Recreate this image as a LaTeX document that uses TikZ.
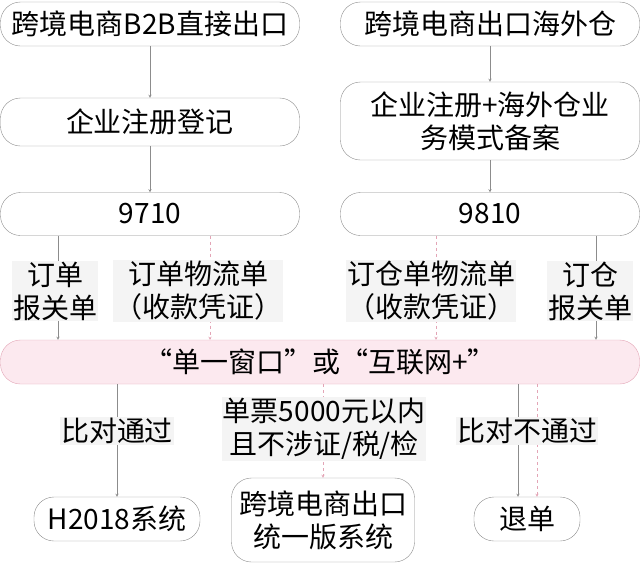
\documentclass[tikz,border=0pt]{standalone}
\usepackage{fontspec}
\setmainfont{Noto Sans CJK SC}
\usepackage{tikz}
\definecolor{boxline}{HTML}{8C8C8C}
\definecolor{pinkline}{HTML}{E3A5B6}
\definecolor{pinkfill}{HTML}{FCE9EF}
\definecolor{labelbg}{HTML}{F4F4F4}
\tikzset{
  stage/.style={draw=boxline, rounded corners=20pt, align=center, inner sep=0pt,
    font=\fontsize{28}{33}\selectfont},
  tag/.style={fill=labelbg, align=center, inner sep=1pt,
    font=\fontsize{28}{33}\selectfont},
  flow/.style={->, >=stealth, draw=boxline, thin},
  ebill/.style={->, >=stealth, draw=pinkline, thin, dashed}
}
\begin{document}
\begin{tikzpicture}[x=1pt, y=-1pt]
    % Keep the page the size of the reference
    \useasboundingbox (0,0) rectangle (641,563);

    % Top row: the two export modes
    \node[stage, minimum width=299pt, minimum height=44pt] (b2b) at (150,24) {跨境电商B2B直接出口};
    \node[stage, minimum width=299pt, minimum height=44pt] (ow) at (490,24) {跨境电商出口海外仓};

    % Registration
    \node[stage, minimum width=299pt, minimum height=48pt] (regL) at (150,122) {企业注册登记};
    \node[stage, minimum width=299pt, minimum height=78pt] (regR) at (490,121) {企业注册+海外仓业\\务模式备案};

    % Supervision codes
    \node[stage, minimum width=299pt, minimum height=43pt] (c9710) at (150,214) {9710};
    \node[stage, minimum width=299pt, minimum height=43pt] (c9810) at (490,214) {9810};

    % Single window
    \node[stage, draw=pinkline, fill=pinkfill, minimum width=639pt, minimum height=44pt] (win) at (320,362) {“单一窗口”或“互联网+”};

    % Systems
    \node[stage, minimum width=166pt, minimum height=44pt] (h2018) at (117,519) {H2018系统};
    \node[stage, minimum width=183pt, minimum height=84pt] (unify) at (323,520) {跨境电商出口\\统一版系统};
    \node[stage, minimum width=106pt, minimum height=44pt] (back) at (527,519) {退单};

    \draw[flow] (b2b) -- (regL);
    \draw[flow] (ow) -- (regR);
    \draw[flow] (regL) -- (c9710);
    \draw[flow] (regR) -- (c9810);

    % Declarations into the single window
    \draw[flow] (c9710.south -| 58,0) -- (win.north -| 58,0);
    \draw[ebill] (c9710.south -| 210,0) -- (win.north -| 210,0);
    \draw[ebill] (c9810.south -| 436,0) -- (win.north -| 436,0);
    \draw[flow] (c9810.south -| 596,0) -- (win.north -| 596,0);
    \node[tag] (t1) at (55,291) {订单\\报关单};
    \node[tag] (t2) at (198,291) {订单物流单\\（收款凭证）};
    \node[tag] (t3) at (431,291) {订仓单物流单\\（收款凭证）};
    \node[tag] (t4) at (590,291) {订仓\\报关单};

    % Results of the comparison
    \draw[flow] (win.south -| h2018) -- (h2018);
    \draw[ebill] (win.south -| unify) -- (unify);
    \draw[flow] (win.south -| 518,0) -- (back.north -| 518,0);
    \draw[ebill] (win.south -| 537,0) -- (back.north -| 537,0);
    \node[tag] (t5) at (117,431) {比对通过};
    \node[tag] (t6) at (324,429) {单票5000元以内\\且不涉证/税/检};
    \node[tag] (t7) at (527,431) {比对不通过};
\end{tikzpicture}
\end{document}
